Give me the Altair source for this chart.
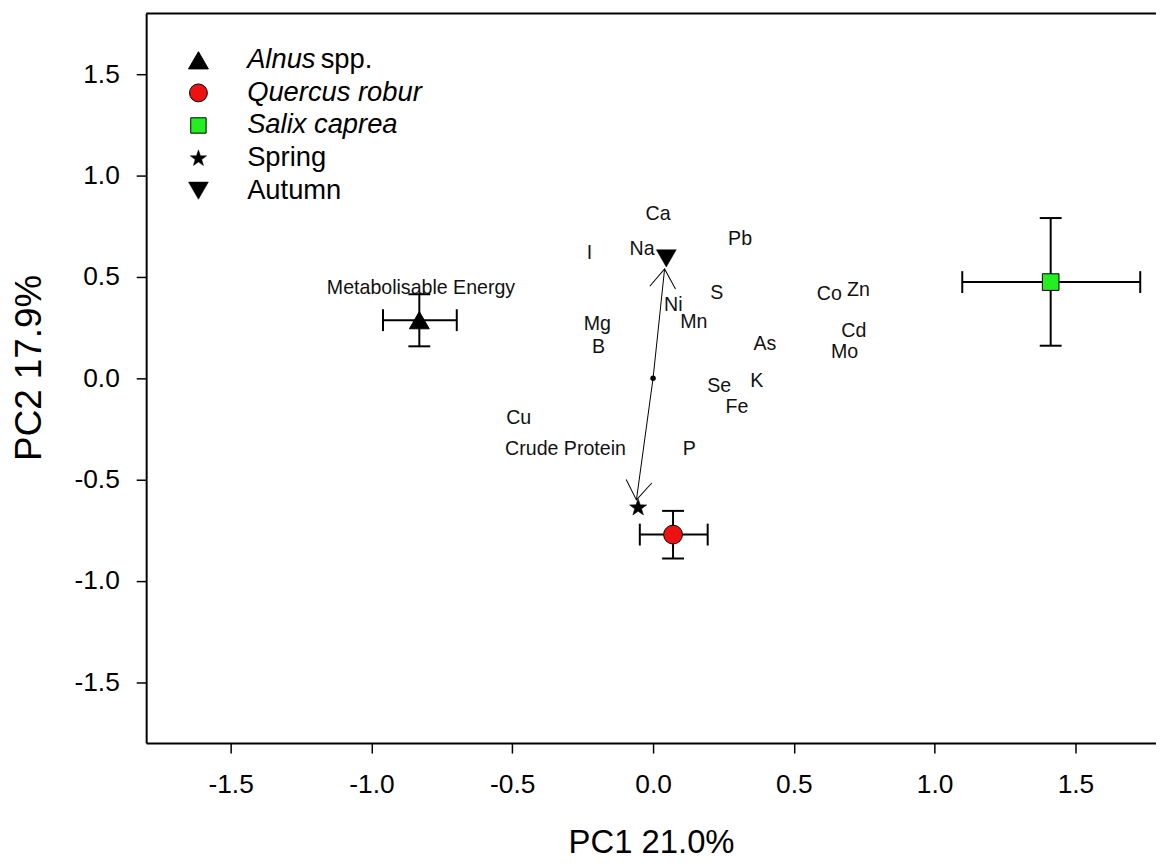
import math
import altair as alt
import pandas as pd

# ---------------- data ----------------
species = ["Alnus spp.", "Quercus robur", "Salix caprea"]
sp_x = [-0.830, 0.071, 1.412]
sp_y = [0.287, -0.771, 0.475]
sp_xlo = [-0.959, -0.047, 1.098]
sp_xhi = [-0.697, 0.194, 1.730]
sp_ylo = [0.158, -0.889, 0.161]
sp_yhi = [0.415, -0.654, 0.791]

seasons = ["Spring", "Autumn"]
se_x = [-0.053, 0.047]
se_y = [-0.636, 0.592]
# arrow tips (season vectors from the origin)
arrow_x = [-0.059, 0.041]
arrow_y = [-0.600, 0.540]
origin_x = [0.0]
origin_y = [0.0]

var_labels = ["Ca", "I", "Na", "Pb", "Metabolisable Energy", "S", "Ni", "Mn", "Mg", "B",
              "Co", "Zn", "Cd", "Mo", "As", "K", "Se", "Fe", "P", "Cu", "Crude Protein"]
var_x = [0.018, -0.226, -0.039, 0.309, -0.824, 0.226, 0.072, 0.145, -0.198, -0.194,
         0.626, 0.729, 0.713, 0.680, 0.397, 0.368, 0.235, 0.298, 0.129, -0.477, -0.311]
var_y = [0.812, 0.619, 0.636, 0.685, 0.444, 0.423, 0.362, 0.280, 0.270, 0.156,
         0.418, 0.436, 0.235, 0.132, 0.169, -0.011, -0.039, -0.142, -0.350, -0.196, -0.350]

x_ticks = [-1.5, -1.0, -0.5, 0.0, 0.5, 1.0, 1.5]
y_ticks = [-1.5, -1.0, -0.5, 0.0, 0.5, 1.0, 1.5]
x_title = "PC1 21.0%"
y_title = "PC2 17.9%"

# ---------------- layout / style ----------------
W, H = 1016, 734
XMIN, XMAX = -1.8, 1.786
YMIN, YMAX = -1.8, 1.8
FONT = "Liberation Sans"

# 5-point star as a custom symbol path
pts = []
for k in range(10):
    r = 1.0 if k % 2 == 0 else 0.40
    a = math.radians(-90 + 36 * k)
    pts.append(f"{r * math.cos(a):.3f},{r * math.sin(a) + 0.05:.3f}")
STAR = "M" + "L".join(pts) + "Z"

sp_style = {
    "Alnus spp.": dict(shape="triangle-up", fill="#000000", size=400, sw=1),
    "Quercus robur": dict(shape="circle", fill="#ee1111", size=361, sw=1),
    "Salix caprea": dict(shape="square", fill="#22ee22", size=280, sw=1),
}
se_style = {
    "Spring": dict(shape=STAR, fill="#000000", size=330, sw=0.5),
    "Autumn": dict(shape="triangle-down", fill="#000000", size=400, sw=0.5),
}

xs = alt.Scale(domain=[XMIN, XMAX], nice=False, zero=False)
ys = alt.Scale(domain=[YMIN, YMAX], nice=False, zero=False)
LBL = "replace(format(datum.value, '.1f'), '\u2212', '-')"

xaxis = alt.Axis(orient="bottom", values=x_ticks, labelExpr=LBL, title=x_title, grid=False,
                 labelFontSize=26.5, titleFontSize=33, titleFontWeight="normal",
                 labelFont=FONT, titleFont=FONT, labelColor="black", titleColor="black",
                 domainColor="black", domainWidth=2, tickColor="black", tickWidth=1.5,
                 tickSize=10, labelPadding=18.5, titlePadding=29, labelFlush=False)
yaxis = alt.Axis(orient="left", values=y_ticks, labelExpr=LBL, title=y_title, grid=False,
                 labelFontSize=26.5, titleFontSize=37, titleFontWeight="normal",
                 labelFont=FONT, titleFont=FONT, labelColor="black", titleColor="black",
                 domainColor="black", domainWidth=2, tickColor="black", tickWidth=1.5,
                 tickSize=10, labelPadding=17, titlePadding=26, titleY=356,
                 labelFlush=False)


def X(f):
    return alt.X(f, type="quantitative", scale=xs, axis=xaxis)


def Y(f):
    return alt.Y(f, type="quantitative", scale=ys, axis=yaxis)


sp_df = pd.DataFrame(dict(name=species, x=sp_x, y=sp_y, xlo=sp_xlo, xhi=sp_xhi,
                          ylo=sp_ylo, yhi=sp_yhi))

layers = []

# top frame line
layers.append(alt.Chart(sp_df.head(1)).mark_rule(color="black", strokeWidth=2).encode(
    x=alt.value(0), x2=alt.value(W), y=alt.value(0)))

# error bars
layers.append(alt.Chart(sp_df).mark_rule(color="black", strokeWidth=2).encode(
    x=X("xlo"), x2="xhi:Q", y=Y("y")))
layers.append(alt.Chart(sp_df).mark_rule(color="black", strokeWidth=2).encode(
    y=Y("ylo"), y2="yhi:Q", x=X("x")))
vcaps = pd.DataFrame(dict(x=sp_xlo + sp_xhi, y=sp_y + sp_y))
hcaps = pd.DataFrame(dict(x=sp_x + sp_x, y=sp_ylo + sp_yhi))
layers.append(alt.Chart(vcaps).mark_tick(color="black", orient="vertical", size=22,
                                         thickness=2, opacity=1).encode(x=X("x"), y=Y("y")))
layers.append(alt.Chart(hcaps).mark_tick(color="black", orient="horizontal", size=22,
                                         thickness=2, opacity=1).encode(x=X("x"), y=Y("y")))

# season vector (double arrow through origin)
kx = W / (XMAX - XMIN)
ky = H / (YMAX - YMIN)
angles = []
for ax_, ay_ in zip(arrow_x, arrow_y):
    dx = (ax_ - origin_x[0]) * kx
    dy = -(ay_ - origin_y[0]) * ky
    angles.append(math.degrees(math.atan2(dx, -dy)) % 360)
arr_df = pd.DataFrame(dict(x=arrow_x, y=arrow_y, x0=origin_x * 2, y0=origin_y * 2,
                           angle=angles))
layers.append(alt.Chart(arr_df).mark_rule(color="black", strokeWidth=1).encode(
    x=X("x0"), y=Y("y0"), x2="x:Q", y2="y:Q"))
head_path = "M-0.566,0.824L0,0L0.566,0.824"
layers.append(alt.Chart(arr_df).mark_point(shape=head_path, filled=False, size=2116,
                                           stroke="black", strokeWidth=1, opacity=1).encode(
    x=X("x"), y=Y("y"), angle=alt.Angle("angle:Q", scale=None)))
org_df = pd.DataFrame(dict(x=origin_x, y=origin_y))
layers.append(alt.Chart(org_df).mark_circle(color="black", size=30, opacity=1).encode(
    x=X("x"), y=Y("y")))

# variable labels
lab_df = pd.DataFrame(dict(label=var_labels, x=var_x, y=var_y))
layers.append(alt.Chart(lab_df).mark_text(font=FONT, fontSize=19.7, color="#111111",
                                          align="center", baseline="middle").encode(
    x=X("x"), y=Y("y"), text="label:N"))

# species markers
for i, name in enumerate(species):
    st = sp_style[name]
    d = pd.DataFrame(dict(x=[sp_x[i]], y=[sp_y[i]]))
    layers.append(alt.Chart(d).mark_point(shape=st["shape"], filled=True, fill=st["fill"],
                                          stroke="black", strokeWidth=st["sw"], size=st["size"],
                                          opacity=1).encode(x=X("x"), y=Y("y")))

# season markers
for i, name in enumerate(seasons):
    st = se_style[name]
    d = pd.DataFrame(dict(x=[se_x[i]], y=[se_y[i]]))
    layers.append(alt.Chart(d).mark_point(shape=st["shape"], filled=True, fill=st["fill"],
                                          stroke="black", strokeWidth=st["sw"], size=st["size"],
                                          opacity=1).encode(x=X("x"), y=Y("y")))

# legend (manual, to allow mixed italic text)
legend_names = ["Alnus spp.", "Quercus robur", "Salix caprea", "Spring", "Autumn"]
legend_italic = ["Alnus", "Quercus robur", "Salix caprea", "", ""]
legend_plain = ["spp.", "", "", "Spring", "Autumn"]
LX_SYM, LX_TXT, LY0, LDY = 52.6, 101.6, 47, 32.8
LFS = 27.5
legend_size = {"Alnus spp.": 400, "Quercus robur": 324, "Salix caprea": 240,
               "Spring": 300, "Autumn": 400}
for i, name in enumerate(legend_names):
    st = sp_style.get(name) or se_style.get(name)
    yy = LY0 + LDY * i
    layers.append(alt.Chart(sp_df.head(1)).mark_point(
        shape=st["shape"], filled=True, fill=st["fill"], stroke="black",
        strokeWidth=st["sw"], size=legend_size[name], opacity=1
    ).encode(x=alt.value(LX_SYM), y=alt.value(yy)))
    if legend_italic[i]:
        layers.append(alt.Chart(sp_df.head(1)).mark_text(
            font=FONT, fontSize=LFS, fontStyle="italic", align="left", baseline="middle",
            color="black", text=legend_italic[i]
        ).encode(x=alt.value(LX_TXT), y=alt.value(yy)))
        if legend_plain[i]:
            layers.append(alt.Chart(sp_df.head(1)).mark_text(
                font=FONT, fontSize=LFS, align="left", baseline="middle",
                color="black", text=legend_plain[i]
            ).encode(x=alt.value(LX_TXT + 74), y=alt.value(yy)))
    else:
        layers.append(alt.Chart(sp_df.head(1)).mark_text(
            font=FONT, fontSize=LFS, align="left", baseline="middle",
            color="black", text=legend_plain[i]
        ).encode(x=alt.value(LX_TXT), y=alt.value(yy)))

chart = alt.layer(*layers).properties(
    width=W, height=H,
    autosize=alt.AutoSizeParams(type="none"),
    padding={"left": 139, "top": 3, "right": 0, "bottom": 117},
    background="white",
).configure_view(stroke=None)

chart.save("out.html", embed_options={"renderer": "svg", "actions": False})
